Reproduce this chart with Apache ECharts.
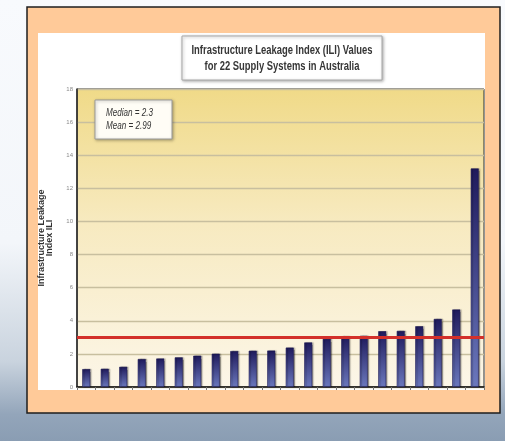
<!DOCTYPE html>
<html>
<head>
<meta charset="utf-8">
<script src="https://cdn.jsdelivr.net/npm/echarts@6/dist/echarts.min.js"></script>
<style>
  html, body { margin: 0; padding: 0; }
  body {
    width: 505px; height: 441px; overflow: hidden;
    background: linear-gradient(to bottom, #f8fafd 0%, #f3f6fa 55%, #c9d3de 82%, #93a5ba 94%, #8a9db3 100%);
  }
  #chart { width: 505px; height: 441px; }
</style>
</head>
<body>
<div id="chart"></div>
<script>
// Supply systems, sorted by ILI
const systems = ['1','2','3','4','5','6','7','8','9','10','11','12','13','14','15','16','17','18','19','20','21','22'];
const iliValues = [1.08, 1.10, 1.22, 1.69, 1.72, 1.79, 1.89, 2.01, 2.17, 2.19, 2.20, 2.38, 2.69, 2.91, 3.07, 3.09, 3.37, 3.39, 3.67, 4.11, 4.68, 13.2];
const yTicks = [0, 2, 4, 6, 8, 10, 12, 14, 16, 18];
const medianILI = 2.3;
const meanILI = 2.99;

const titleLines = ['Infrastructure Leakage Index (ILI) Values', 'for 22 Supply Systems in Australia'];
const statLines = ['Median = ' + medianILI, 'Mean = ' + meanILI];

// condensed look: measure the text and squeeze it horizontally
const measureCtx = document.createElement('canvas').getContext('2d');
function squeeze(text, font, width) {
  measureCtx.font = font;
  return width / measureCtx.measureText(text).width;
}

const titleFont = 'bold 12px "Liberation Sans", Arial, sans-serif';
const statFont = 'italic 10px "Liberation Sans", Arial, sans-serif';
const titleScale = squeeze(titleLines[0], titleFont, 181);
const statScale = squeeze(statLines[0], statFont, 47);

const chart = echarts.init(document.getElementById('chart'), null, { renderer: 'canvas' });

chart.setOption({
  backgroundColor: 'transparent',
  animation: false,
  graphic: [
    // peach frame
    { type: 'rect', z: -10, shape: { x: 27, y: 7, width: 473, height: 406 },
      style: { fill: '#ffca99', stroke: '#1e1e1e', lineWidth: 1.5 } },
    // white chart sheet
    { type: 'rect', z: -9, shape: { x: 38, y: 33, width: 447, height: 357 },
      style: { fill: '#ffffff' } },
    // title box
    { type: 'rect', z: 5, shape: { x: 182, y: 36, width: 200, height: 44 },
      style: { fill: '#ffffff', stroke: '#a8a8a8', lineWidth: 1,
               shadowBlur: 3, shadowOffsetX: 1, shadowOffsetY: 1, shadowColor: 'rgba(0,0,0,0.3)' } },
    { type: 'text', z: 6, x: 282, y: 51, scaleX: titleScale,
      style: { text: titleLines[0], fill: '#363636',
               font: titleFont, align: 'center', verticalAlign: 'middle' } },
    { type: 'text', z: 6, x: 282, y: 67, scaleX: titleScale,
      style: { text: titleLines[1], fill: '#363636',
               font: titleFont, align: 'center', verticalAlign: 'middle' } },
    // statistics box
    { type: 'rect', z: 5, shape: { x: 95, y: 100, width: 77, height: 39 },
      style: { fill: '#fffdf6', stroke: '#9a9a9a', lineWidth: 1,
               shadowBlur: 3, shadowOffsetX: 1, shadowOffsetY: 1, shadowColor: 'rgba(0,0,0,0.3)' } },
    { type: 'text', z: 6, x: 106, y: 113, scaleX: statScale,
      style: { text: statLines[0], fill: '#333333',
               font: statFont, align: 'left', verticalAlign: 'middle' } },
    { type: 'text', z: 6, x: 106, y: 126, scaleX: statScale,
      style: { text: statLines[1], fill: '#333333',
               font: statFont, align: 'left', verticalAlign: 'middle' } }
  ],
  grid: {
    left: 77, right: 21, top: 89, bottom: 54,
    show: true,
    borderColor: '#2a2a2a',
    borderWidth: 1,
    backgroundColor: new echarts.graphic.LinearGradient(0, 0, 0, 1, [
      { offset: 0, color: '#f0da88' },
      { offset: 0.45, color: '#f7eac0' },
      { offset: 1, color: '#fcf6e8' }
    ])
  },
  xAxis: {
    type: 'category',
    data: systems,
    axisLine: { show: true, lineStyle: { color: '#111', width: 1.5 } },
    axisTick: { show: true, length: 3, lineStyle: { color: '#777' } },
    axisLabel: { show: false },
    splitLine: { show: false }
  },
  yAxis: {
    type: 'value',
    min: yTicks[0],
    max: yTicks[yTicks.length - 1],
    interval: 2,
    name: 'Infrastructure Leakage\nIndex ILI',
    nameLocation: 'middle',
    nameGap: 23,
    nameTextStyle: { fontFamily: 'Liberation Sans, Arial, sans-serif', fontSize: 9, fontWeight: 'bold',
                     color: '#333', lineHeight: 8 },
    axisLine: { show: true, lineStyle: { color: '#2a2a2a', width: 1.5 } },
    axisTick: { show: false },
    axisLabel: { fontSize: 6, color: '#8a8a8a', margin: 4, fontFamily: 'Liberation Sans, Arial, sans-serif' },
    splitLine: { show: true, lineStyle: { color: '#c8bf9f', width: 1.3 } }
  },
  series: [{
    type: 'bar',
    data: iliValues,
    barWidth: 8,
    itemStyle: {
      color: new echarts.graphic.LinearGradient(0, 0, 0, 1, [
        { offset: 0, color: '#1f1a5c' },
        { offset: 1, color: '#6b78bd' }
      ]),
      borderColor: '#1a1650',
      borderWidth: 0.6,
      shadowColor: 'rgba(0,0,0,0.35)',
      shadowOffsetX: 1.5,
      shadowOffsetY: 0,
      shadowBlur: 1
    },
    markLine: {
      silent: true,
      symbol: 'none',
      label: { show: false },
      lineStyle: { color: '#d3302a', width: 3, type: 'solid' },
      data: [{ yAxis: meanILI }],
      z: 10
    }
  }]
});
</script>
</body>
</html>
